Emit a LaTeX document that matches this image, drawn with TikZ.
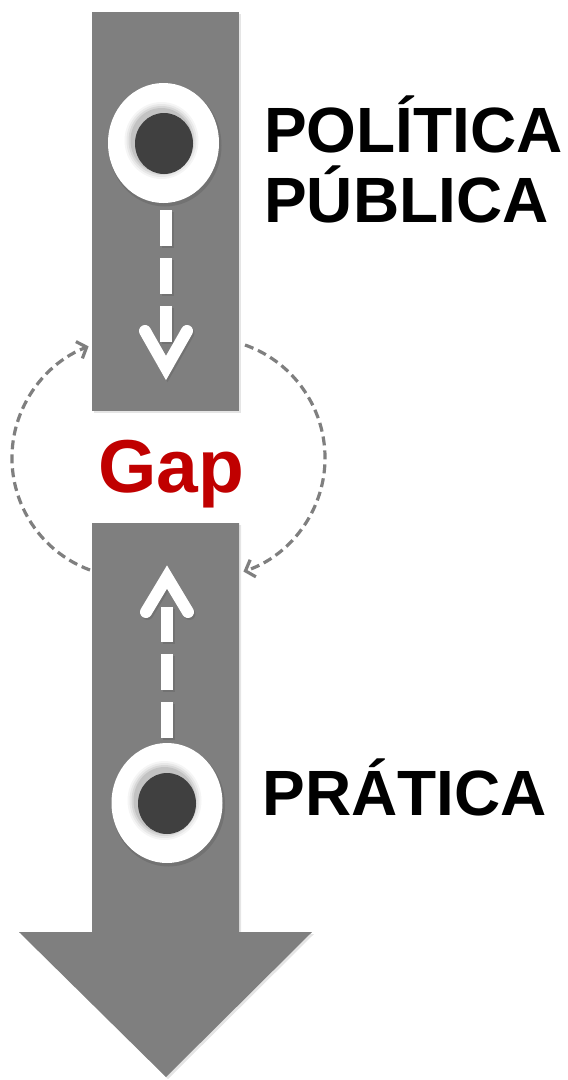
\documentclass[tikz,border=0pt]{standalone}
\usepackage{fontspec}
\setmainfont{Liberation Sans}
\usetikzlibrary{arrows.meta,shapes.geometric}
\definecolor{bargray}{HTML}{7F7F7F}
\definecolor{dotgray}{HTML}{404040}
\definecolor{gapred}{HTML}{C00000}
\begin{document}
\begin{tikzpicture}[x=1pt,y=1pt,
  barfill/.style={fill=bargray},
  softshadow/.style={fill=black,opacity=0.10},
  whitedash/.style={white,line width=12pt,dash pattern=on 36pt off 12pt},
  chevron/.style={white,line width=12pt,line cap=round,line join=miter,miter limit=10},
  loopline/.style={draw=bargray,line width=3.2pt,dash pattern=on 9pt off 5pt,-{Straight Barb[length=8pt,width=18pt]}},
  bigtext/.style={font=\fontsize{64}{70}\selectfont\bfseries,inner sep=0pt,anchor=base west},
  ring/.style={ellipse,fill=white,inner sep=0pt,minimum width=111pt,minimum height=120pt},
  dot/.style={ellipse,fill=dotgray,inner sep=0pt,minimum width=58pt,minimum height=61pt},
]
\useasboundingbox (0,0) rectangle (568,-1080);

% shadows of the bar and arrow
\fill[softshadow] (94,-14) -- (241,-14) -- (241,-413) -- (94,-413) -- cycle;
\fill[softshadow] (94,-525) -- (241,-525) -- (241,-934) -- (314,-934) -- (168,-1079) -- (21,-934) -- (94,-934) -- cycle;
% bar and arrow
\fill[barfill] (92,-12) -- (239,-12) -- (239,-411) -- (92,-411) -- cycle;
\fill[barfill] (92,-523) -- (239,-523) -- (239,-932) -- (312,-932) -- (166,-1077) -- (19,-932) -- (92,-932) -- cycle;

% top ring
\fill[softshadow] (165,-145.5) ellipse[x radius=56.5, y radius=61];
\node[ring] (topring) at (163.5,-143) {};
\foreach \d/\o in {8/0.04,6/0.05,4/0.07,2/0.09}
  \fill[black,opacity=\o] (161.5,-140.5) ellipse[x radius=29+\d, y radius=30.5+\d];
\node[dot] (topdot) at (164,-143.5) {};

% bottom ring
\fill[softshadow] (168.5,-805.5) ellipse[x radius=56.5, y radius=61];
\node[ring] (botring) at (167,-803) {};
\foreach \d/\o in {8/0.04,6/0.05,4/0.07,2/0.09}
  \fill[black,opacity=\o] (164.5,-800.5) ellipse[x radius=29+\d, y radius=31.5+\d];
\node[dot] (botdot) at (167,-803.5) {};

% downward white dashed arrow
\coordinate (ds) at (166,-210);
\coordinate (de) at (166,-342);
\draw[whitedash,black,opacity=0.10] ([shift={(1.5,-2)}]ds) -- ([shift={(1.5,-2)}]de);
\draw[chevron,black,opacity=0.10] (146.5,-333) -- (167.5,-370) -- (188.5,-333);
\draw[whitedash] (ds) -- (de);
\draw[chevron] (145,-331) -- (166,-368) -- (187,-331);

% upward white dashed arrow
\coordinate (us) at (167,-738);
\coordinate (ue) at (167,-607);
\draw[whitedash,black,opacity=0.10] ([shift={(1.5,-2)}]us) -- ([shift={(1.5,-2)}]ue);
\draw[chevron,black,opacity=0.10] (147.5,-614) -- (168.5,-579) -- (189.5,-614);
\draw[whitedash] (us) -- (ue);
\draw[chevron] (146,-612) -- (167,-577) -- (188,-612);

% gap label
\node[font=\fontsize{75}{80}\selectfont\bfseries,text=gapred,inner sep=0pt,anchor=base] (gap) at (171,-492) {Gap};

% circular dashed loop arrows
\coordinate (la) at (90,-570);
\coordinate (ra) at (245,-345);
\draw[loopline] (la) arc[start angle=249.7, end angle=111, radius=119.5];
\draw[loopline] (ra) arc[start angle=70.6, end angle=-71.4, radius=119.8];

% labels
\node[bigtext] (politica) at (264,-152) {POLÍTICA};
\node[bigtext] (publica) at (264,-222) {PÚBLICA};
\node[bigtext] (pratica) at (262.5,-815) {PRÁTICA};
\end{tikzpicture}
\end{document}
